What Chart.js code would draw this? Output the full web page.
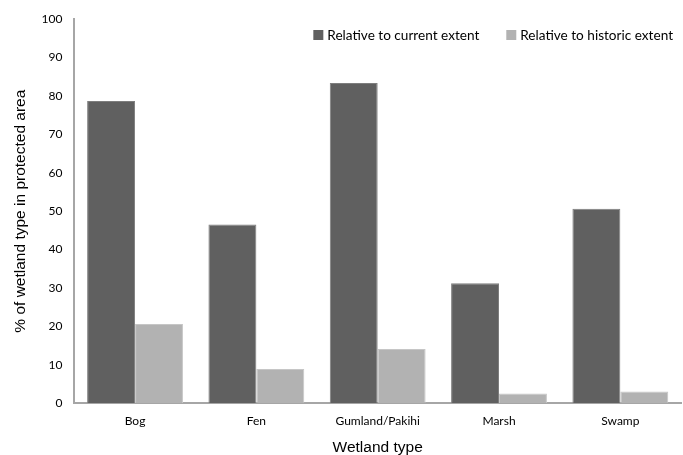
<!DOCTYPE html>
<html>
<head>
<meta charset="utf-8">
<script src="https://cdn.jsdelivr.net/npm/chart.js@4"></script>
<style>
  html, body { margin: 0; padding: 0; background: #fff; }
  #wrap { width: 683px; height: 455px; }
</style>
</head>
<body>
<div id="wrap"><canvas id="chart"></canvas></div>
<script>
const categories = ['Bog', 'Fen', 'Gumland/Pakihi', 'Marsh', 'Swamp'];
const currentExtent = [78.7, 46.5, 83.4, 31.2, 50.6];
const historicExtent = [20.6, 8.9, 14.1, 2.5, 3.0];
const yTicks = [0, 10, 20, 30, 40, 50, 60, 70, 80, 90, 100];

const tickFont = { family: 'Lato', size: 12 };
const titleFont = { family: 'Liberation Sans', size: 15.5, lineHeight: 1 };

// legend drawn inside the plot, top right (the built-in one pushes the plot down)
const insideLegend = {
  id: 'insideLegend',
  afterDraw(chart) {
    const ctx = chart.ctx;
    const right = 673;
    const cy = 35;
    const box = 10;
    const gap = 4;
    const spacing = 27;
    ctx.save();
    ctx.font = '13.6px Lato';
    ctx.textBaseline = 'middle';
    ctx.textAlign = 'left';
    const items = chart.data.datasets.map((ds) => ({
      text: ds.label,
      color: ds.backgroundColor,
      w: box + gap + ctx.measureText(ds.label).width,
    }));
    const total = items.reduce((s, it) => s + it.w, 0) + spacing * (items.length - 1);
    let x = right - total;
    items.forEach((it) => {
      ctx.fillStyle = it.color;
      ctx.fillRect(x, cy - box / 2, box, box);
      ctx.fillStyle = '#000';
      ctx.fillText(it.text, x + box + gap, cy + 1);
      x += it.w + spacing;
    });
    ctx.restore();
  },
};

new Chart(document.getElementById('chart'), {
  type: 'bar',
  data: {
    labels: categories,
    datasets: [
      {
        label: 'Relative to current extent',
        data: currentExtent,
        backgroundColor: '#606060',
        borderColor: '#7e7e7e',
        borderWidth: 1,
      },
      {
        label: 'Relative to historic extent',
        data: historicExtent,
        backgroundColor: '#b2b2b2',
        borderColor: '#c6c6c6',
        borderWidth: 1,
      },
    ],
  },
  plugins: [insideLegend],
  options: {
    responsive: true,
    maintainAspectRatio: false,
    animation: false,
    datasets: {
      bar: {
        categoryPercentage: 0.79,
        barPercentage: 1,
      },
    },
    layout: {
      padding: { top: 12, right: 2, left: 13, bottom: 0 },
    },
    plugins: {
      tooltip: { enabled: false },
      legend: { display: false },
    },
    scales: {
      x: {
        grid: { display: false, drawTicks: false },
        border: { color: '#a6a6a6', width: 2 },
        ticks: {
          color: '#000',
          padding: 11,
          font: tickFont,
        },
        title: {
          display: true,
          text: 'Wetland type',
          color: '#000',
          font: titleFont,
          padding: { top: 0, bottom: 0 },
        },
      },
      y: {
        min: 0,
        max: 100,
        afterBuildTicks: (axis) => {
          axis.ticks = yTicks.map((v) => ({ value: v }));
        },
        grid: { display: false, drawTicks: false },
        border: { color: '#a6a6a6', width: 2 },
        ticks: {
          color: '#000',
          padding: 12,
          font: tickFont,
        },
        title: {
          display: true,
          text: '% of wetland type in protected area',
          color: '#000',
          font: titleFont,
          padding: { top: 0, bottom: 1 },
        },
      },
    },
  },
});
</script>
</body>
</html>
